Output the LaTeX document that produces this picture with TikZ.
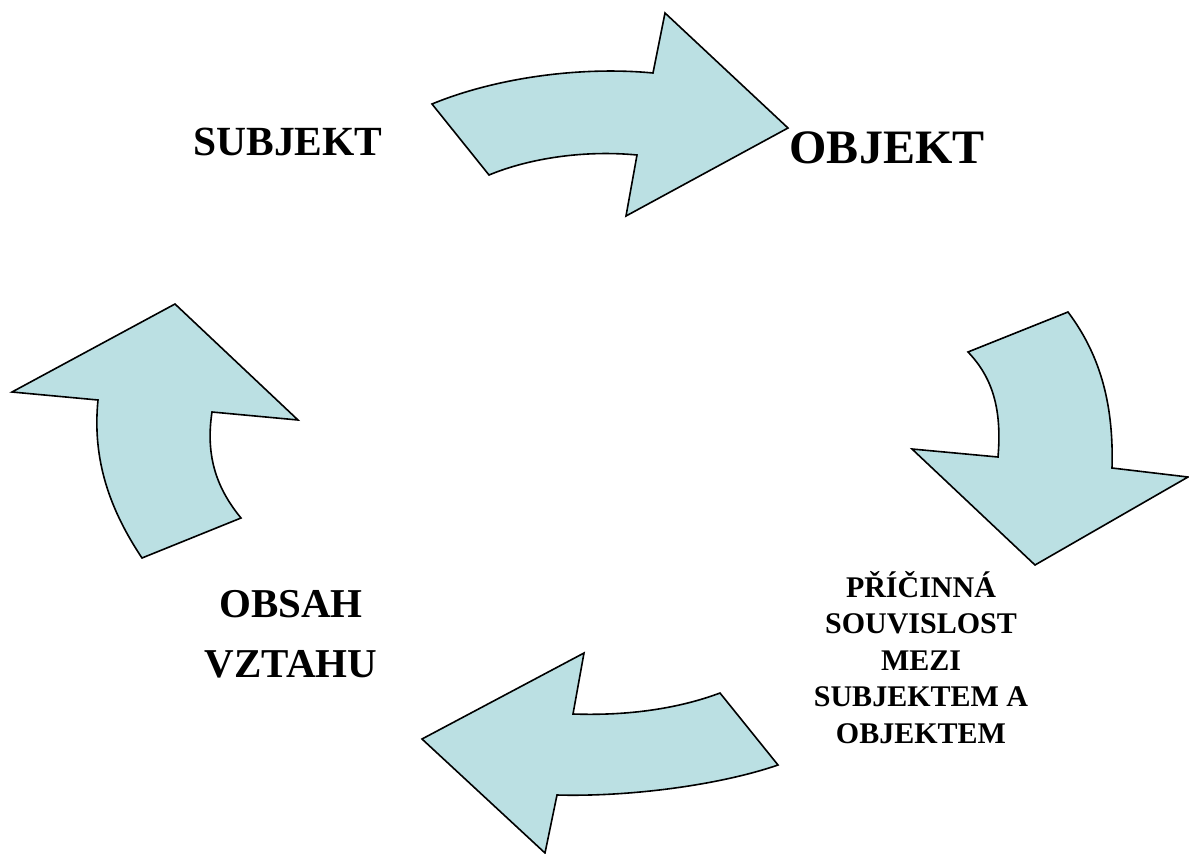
\documentclass[tikz,border=0pt]{standalone}
\usepackage{fontspec}
\setmainfont{Liberation Serif}
\definecolor{arrowfill}{RGB}{187,224,227}
\tikzset{
  bigarrow/.style={draw=black, fill=arrowfill, line width=1.6pt, line join=miter},
  lbl/.style={font=\bfseries, inner sep=0pt, align=center}
}
\begin{document}
\begin{tikzpicture}[x=1pt,y=-1pt]
\useasboundingbox (0,0) rectangle (1189,854);
% top arrow (SUBJEKT -> OBJEKT)
\path[bigarrow] (432,104) .. controls (495,78) and (580,66) .. (653,73)
  -- (665,13) -- (788,128) -- (626,216) -- (637,155)
  .. controls (585,150) and (530,158) .. (489,175) -- cycle;
% right arrow (down)
\path[bigarrow] (968,352) -- (1068,312)
  .. controls (1098,352) and (1114,400) .. (1112,468)
  -- (1188,477) -- (1035,565) -- (912,449) -- (998,457)
  .. controls (1002,410) and (993,378) .. (968,352) -- cycle;
% bottom arrow (left)
\path[bigarrow] (584,653) -- (573,714)
  .. controls (630,716) and (680,708) .. (720,693)
  -- (778,765)
  .. controls (720,785) and (630,797) .. (557,795)
  -- (545,853) -- (422,739) -- cycle;
% left arrow (up)
\path[bigarrow] (175,304) -- (298,420) -- (212,412)
  .. controls (205,458) and (218,490) .. (241,518)
  -- (142,558)
  .. controls (110,510) and (92,460) .. (98,400)
  -- (12,392) -- cycle;
% labels
\node[lbl, font=\fontsize{41.5}{49}\selectfont\bfseries, anchor=base] (subj) at (288,155) {SUBJEKT};
\node[lbl, font=\fontsize{48}{56}\selectfont\bfseries, anchor=base] (obj) at (887,163) {OBJEKT};
\node[lbl, font=\fontsize{41}{60}\selectfont\bfseries, anchor=base] (obsah) at (291,677) {OBSAH\\VZTAHU};
\node[lbl, font=\fontsize{30}{36.5}\selectfont\bfseries, anchor=base] (souv) at (921,743) {PŘÍČINNÁ\\SOUVISLOST\\MEZI\\SUBJEKTEM A\\OBJEKTEM};
\end{tikzpicture}
\end{document}
